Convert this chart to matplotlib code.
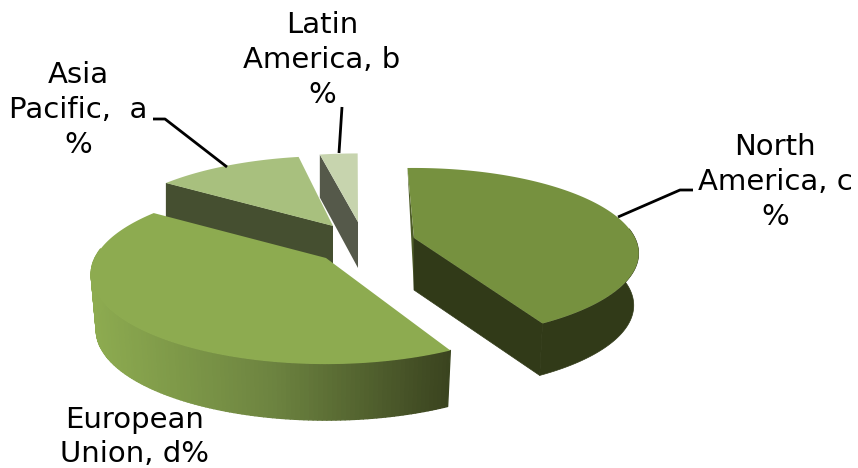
import numpy as np
import matplotlib
matplotlib.use("Agg")
import matplotlib.pyplot as plt
from matplotlib.collections import PolyCollection
from matplotlib.colors import LinearSegmentedColormap
from matplotlib.patches import Polygon

# data
categories = ["North\nAmerica, c\n%", "European\nUnion, d%", "Asia\nPacific,  a\n%", "Latin\nAmerica, b\n%"]
values = [42.4, 42.1, 12.4, 3.1]

# style / layout (pixels of the 858x468 canvas)
start_angle = 92.0
centers = [(414, 238), (326, 258), (333, 226), (358, 222)]
radii_x = [221, 231, 225, 230]
radii_y = [0.95, 1.0, 0.95, 0.93]
rotations = [0, -2.5, -2.8, -1.9]
depths = [52, 56, 40, 46]
back_depth = [0, 0, 40, 43]
top_colors = ["#76913f", "#8dab50", "#a8c07e", "#c7d4ae"]
side_colors = ["#313a18", None, "#454f30", "#55594a"]
back_colors = ["#4d5c28", None, "#454f30", "#55594a"]
label_pos = [(775, 182), (135, 437), (78, 110), (322, 60)]
leaders = [[(618, 217), (680, 190), (693, 190)],
           [(227, 167), (165, 119), (153, 119)],
           [(339, 153), (342, 107)]]
RY, K = 87.0, 0.18
RING = 0.978
wall_cmap = LinearSegmentedColormap.from_list("wall", ["#8dab50", "#6d8440", "#3a431f"])


def project(i, deg):
    t = np.radians(np.asarray(deg, dtype=float))
    c, s = np.cos(t), np.sin(t)
    w = 1 + K * s
    cx, cy = centers[i]
    return cx + radii_x[i] * c / w, cy - RY * radii_y[i] * s / w


fig = plt.figure(figsize=(8.58, 4.68), dpi=100)
ax = fig.add_axes([0, 0, 1, 1])
ax.set_xlim(0, 858)
ax.set_ylim(468, 0)
ax.axis("off")

sweeps = np.array(values) / sum(values) * 360
ends = start_angle - np.cumsum(sweeps)
starts = ends + sweeps

for rank, i in enumerate([3, 2, 0, 1]):
    z = rank + 1
    a0, a1 = starts[i] + rotations[i], ends[i] + rotations[i]
    ang = np.linspace(a0, a1, 160)
    x, y = project(i, ang)
    cx, cy = centers[i]
    d = depths[i]
    # visible radial face at the back edge of the wedge
    if back_colors[i]:
        bd = back_depth[i]
        face = [(x[0], y[0]), (cx, cy), (cx, cy + d)]
        if bd:
            face.append((x[0], y[0] + bd))
        ax.add_patch(Polygon(face, closed=True, fc=back_colors[i], ec="none", zorder=z))
    if i == 2:
        ax.add_patch(Polygon([(x[0], y[0]), (cx, cy), (cx, cy + d), (x[0], y[0] + d)],
                             closed=True, fc=side_colors[i], ec="none", zorder=z))
    # outer wall
    vis = np.sin(np.radians(ang)) < 0.12
    xv, yv = x[vis], y[vis]
    xb = cx + (xv - cx) * RING
    if i == 0:
        ax.add_patch(Polygon(np.r_[np.c_[xv, yv], np.c_[xb, yv + d][::-1]], closed=True,
                             fc=side_colors[i], ec=side_colors[i], lw=0.5, zorder=z))
        # radial face at the front edge
        ax.add_patch(Polygon([(cx, cy), (x[-1], y[-1]), (xb[-1], y[-1] + d), (cx, cy + d)],
                             closed=True, fc=side_colors[i], ec=side_colors[i], lw=0.5, zorder=z))
    if i == 1:
        quads = [[(xv[j], yv[j]), (xv[j + 1], yv[j + 1]),
                  (xb[j + 1], yv[j + 1] + d), (xb[j], yv[j] + d)] for j in range(len(xv) - 1)]
        mids = (xv[:-1] + xv[1:]) / 2
        cols = wall_cmap((mids - xv.min()) / (xv.max() - xv.min()))
        ax.add_collection(PolyCollection(quads, facecolors=cols, edgecolors=cols,
                                         linewidths=1.0, zorder=z))
    # top
    ax.add_patch(Polygon(np.r_[[[cx, cy]], np.c_[x, y]], closed=True,
                         fc=top_colors[i], ec="none", zorder=z + 0.5))

for pts in leaders:
    px, py = zip(*pts)
    ax.plot(px, py, color="black", lw=2.0, solid_capstyle="butt", zorder=8)

for name, (lx, ly) in zip(categories, label_pos):
    ax.text(lx, ly, name, ha="center", va="center", fontsize=21,
            family="DejaVu Sans", color="black", linespacing=1.3, zorder=9)

fig.savefig("out.png", dpi=100)
